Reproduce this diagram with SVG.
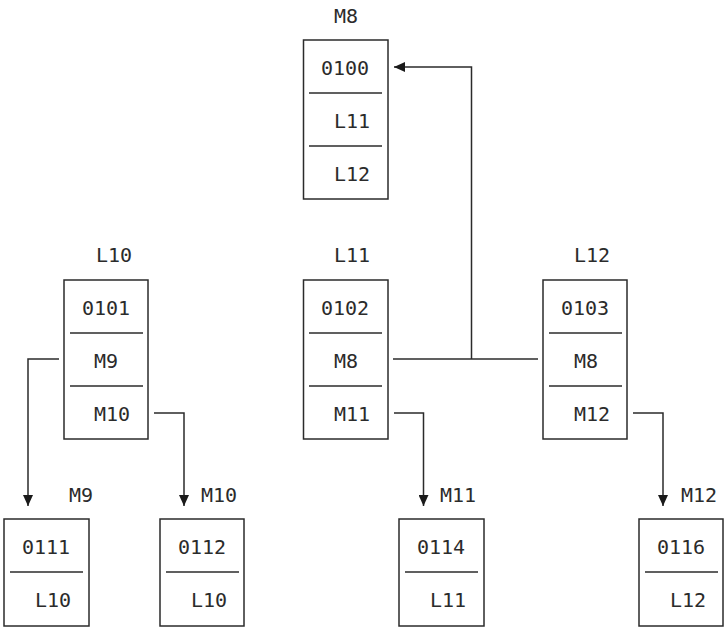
<svg xmlns="http://www.w3.org/2000/svg" width="724" height="628" viewBox="0 0 724 628">
<defs>
<style>
.box{fill:#fff;stroke:#2b2b2b;stroke-width:1.5}
.div{stroke:#2b2b2b;stroke-width:1.5}
.t{font-family:"DejaVu Sans Mono","Liberation Mono",monospace;font-size:20px;fill:#2b2b2b}
.c{fill:none;stroke:#2b2b2b;stroke-width:1.5}
</style>
<marker id="ah" markerWidth="11" markerHeight="10" refX="11" refY="5" orient="auto" markerUnits="userSpaceOnUse">
<path d="M0,0 L11,5 L0,10 Z" fill="#1a1a1a"/>
</marker>
</defs>
<rect width="724" height="628" fill="#fff"/>

<g id="M8">
<text class="t" x="334" y="23">M8</text>
<rect class="box" x="303.5" y="40" width="84.5" height="159"/>
<line class="div" x1="309" y1="93" x2="382" y2="93"/>
<line class="div" x1="309" y1="146" x2="382" y2="146"/>
<text class="t" x="321" y="75">0100</text>
<text class="t" x="334" y="128">L11</text>
<text class="t" x="334" y="181">L12</text>
</g>

<g id="L10">
<text class="t" x="96" y="262">L10</text>
<rect class="box" x="64" y="280" width="84" height="159"/>
<line class="div" x1="70" y1="333" x2="143" y2="333"/>
<line class="div" x1="70" y1="386" x2="143" y2="386"/>
<text class="t" x="82" y="315">0101</text>
<text class="t" x="94" y="368">M9</text>
<text class="t" x="94" y="421">M10</text>
</g>

<g id="L11">
<text class="t" x="334" y="262">L11</text>
<rect class="box" x="303.5" y="280" width="84.5" height="159"/>
<line class="div" x1="309" y1="333" x2="382" y2="333"/>
<line class="div" x1="309" y1="386" x2="382" y2="386"/>
<text class="t" x="321" y="315">0102</text>
<text class="t" x="334" y="368">M8</text>
<text class="t" x="334" y="421">M11</text>
</g>

<g id="L12">
<text class="t" x="574" y="262">L12</text>
<rect class="box" x="543" y="280" width="84" height="159"/>
<line class="div" x1="549" y1="333" x2="622" y2="333"/>
<line class="div" x1="549" y1="386" x2="622" y2="386"/>
<text class="t" x="561" y="315">0103</text>
<text class="t" x="574" y="368">M8</text>
<text class="t" x="574" y="421">M12</text>
</g>

<g id="M9">
<text class="t" x="69" y="502">M9</text>
<rect class="box" x="4" y="519" width="85" height="107"/>
<line class="div" x1="10" y1="572" x2="83" y2="572"/>
<text class="t" x="22" y="554">0111</text>
<text class="t" x="35" y="607">L10</text>
</g>

<g id="M10">
<text class="t" x="201" y="502">M10</text>
<rect class="box" x="160" y="519" width="84" height="107"/>
<line class="div" x1="166" y1="572" x2="239" y2="572"/>
<text class="t" x="178" y="554">0112</text>
<text class="t" x="191" y="607">L10</text>
</g>

<g id="M11">
<text class="t" x="440" y="502">M11</text>
<rect class="box" x="399" y="519" width="85" height="107"/>
<line class="div" x1="405" y1="572" x2="478" y2="572"/>
<text class="t" x="417" y="554">0114</text>
<text class="t" x="430" y="607">L11</text>
</g>

<g id="M12">
<text class="t" x="681" y="502">M12</text>
<rect class="box" x="639" y="519" width="84" height="107"/>
<line class="div" x1="645" y1="572" x2="718" y2="572"/>
<text class="t" x="657" y="554">0116</text>
<text class="t" x="670" y="607">L12</text>
</g>

<g id="connectors">
<polyline class="c" points="393,359 538,359"/>
<polyline class="c" points="471.5,359 471.5,67 394,67" marker-end="url(#ah)"/>
<polyline class="c" points="59,359 28,359 28,506" marker-end="url(#ah)"/>
<polyline class="c" points="154,413 184,413 184,506" marker-end="url(#ah)"/>
<polyline class="c" points="394,413 423.5,413 423.5,506" marker-end="url(#ah)"/>
<polyline class="c" points="633,413 663,413 663,506" marker-end="url(#ah)"/>
</g>
</svg>
